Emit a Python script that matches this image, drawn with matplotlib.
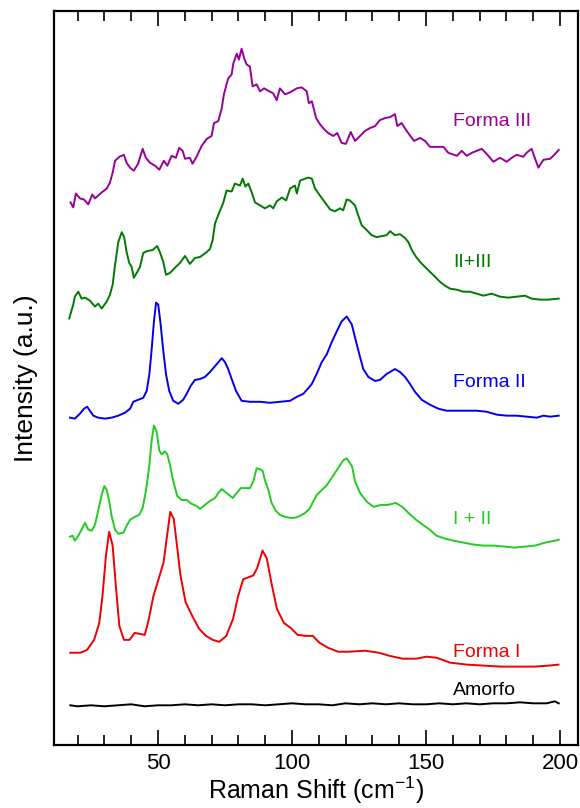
import numpy as np
import matplotlib
matplotlib.use('Agg')
import matplotlib.pyplot as plt
from matplotlib.ticker import MultipleLocator

plt.rcParams['font.family'] = ['Liberation Sans', 'DejaVu Sans']
plt.rcParams['mathtext.fontset'] = 'custom'
plt.rcParams['mathtext.rm'] = 'Liberation Sans'

# Espectros Raman (desplazados verticalmente), pares (cm-1, intensidad u.a.)
forma3 = [(17.4, 547), (18.4, 542), (19.4, 556), (20.9, 551), (22.4, 550), (24.0, 545), (25.5, 555),
          (26.5, 551), (29.0, 557), (30.9, 561), (32.1, 567), (33.1, 577), (34.0, 589), (35.6, 593),
          (37.3, 595), (38.3, 587), (39.6, 582), (41.0, 579), (42.6, 586), (44.3, 601), (45.5, 592),
          (47.0, 587), (48.9, 584), (50.5, 580), (52.2, 589), (53.5, 584), (55.1, 594), (56.7, 592),
          (57.9, 602), (59.2, 599), (60.1, 591), (61.9, 592), (62.9, 586), (64.4, 593), (66.3, 604),
          (68.2, 611), (70.0, 614), (70.9, 627), (72.5, 629), (73.8, 642), (74.6, 656), (76.2, 672),
          (77.5, 676), (78.1, 687), (79.4, 697), (80.2, 691), (81.2, 702), (82.2, 692), (83.1, 686),
          (84.3, 684), (85.3, 664), (86.8, 666), (88.1, 659), (89.6, 662), (91.5, 659), (93.0, 657),
          (94.3, 650), (95.5, 662), (97.4, 656), (99.3, 658), (101.8, 662), (103.6, 663), (105.5, 659),
          (106.3, 647), (107.4, 649), (109.0, 632), (110.4, 626), (111.9, 621), (113.5, 617), (115.4, 614),
          (116.9, 617), (118.5, 607), (120.1, 606), (121.9, 618), (123.5, 609), (125.4, 614), (127.2, 619),
          (129.1, 622), (131.0, 624), (132.8, 630), (134.7, 632), (136.6, 633), (138.4, 636), (139.3, 624),
          (140.9, 627), (142.8, 619), (145.5, 609), (147.8, 612), (149.6, 609), (151.5, 603), (154.0, 603),
          (156.5, 603), (158.3, 597), (161.5, 594), (163.3, 599), (165.2, 594), (167.1, 597), (168.9, 599),
          (170.8, 601), (172.6, 596), (175.1, 588), (177.6, 592), (180.1, 588), (182.0, 592), (183.8, 595),
          (186.3, 593), (187.5, 597), (189.4, 601), (190.7, 591), (191.9, 582), (193.8, 590), (196.3, 591),
          (197.5, 594), (199.5, 600)]

forma23 = [(16.9, 430), (18.4, 444), (19.0, 452), (20.3, 457), (21.5, 450), (22.8, 451), (24.6, 448),
           (26.5, 442), (27.7, 445), (29.0, 440), (30.9, 447), (32.1, 454), (33.1, 464), (34.0, 484),
           (35.2, 507), (36.5, 517), (37.4, 512), (38.3, 497), (39.3, 486), (40.2, 482), (41.0, 471),
           (42.3, 477), (43.3, 482), (44.5, 496), (46.0, 498), (48.0, 499), (49.7, 503), (50.7, 497),
           (52.0, 487), (53.0, 474), (54.5, 476), (56.3, 481), (58.2, 486), (60.1, 493), (61.9, 485),
           (63.8, 491), (65.7, 492), (68.2, 497), (69.4, 500), (70.4, 509), (71.3, 526), (72.9, 537),
           (74.4, 547), (75.6, 559), (77.5, 558), (78.7, 566), (80.6, 564), (81.6, 571), (82.6, 563),
           (83.7, 566), (85.0, 557), (86.2, 547), (88.1, 544), (89.9, 541), (91.8, 544), (93.0, 541),
           (94.3, 548), (96.2, 552), (97.8, 549), (99.3, 561), (101.1, 564), (101.8, 556), (103.0, 569),
           (104.9, 571), (106.1, 572), (107.4, 571), (108.6, 561), (110.4, 554), (112.3, 547), (114.2, 540),
           (116.0, 538), (117.9, 541), (119.1, 539), (120.4, 550), (121.6, 549), (123.5, 544), (124.7, 534),
           (126.0, 524), (127.9, 519), (129.7, 514), (131.6, 512), (133.5, 513), (135.3, 514), (136.6, 518),
           (138.4, 514), (140.3, 515), (142.2, 511), (143.4, 507), (144.7, 499), (146.3, 492), (147.8, 487),
           (149.6, 482), (151.5, 477), (153.4, 472), (155.2, 467), (157.1, 463), (159.0, 460), (161.5, 459),
           (163.9, 457), (166.4, 457), (168.9, 455), (171.4, 453), (174.5, 455), (177.6, 452), (180.7, 451),
           (183.8, 452), (186.9, 453), (189.4, 450), (192.5, 449), (195.6, 449), (199.5, 450)]

forma2 = [(17.2, 330), (19.0, 329), (20.9, 334), (22.4, 339), (23.6, 341), (24.6, 337), (25.9, 332),
          (27.7, 330), (30.2, 329), (32.7, 330), (35.2, 332), (37.7, 335), (39.6, 339), (40.8, 346),
          (42.6, 348), (44.5, 350), (45.8, 357), (46.8, 374), (47.6, 397), (48.5, 427), (49.3, 446),
          (50.1, 444), (51.0, 424), (52.0, 397), (53.0, 374), (54.2, 357), (55.7, 347), (57.6, 344),
          (59.4, 348), (60.7, 354), (62.2, 362), (63.8, 368), (65.7, 369), (67.5, 371), (69.4, 376),
          (71.3, 382), (72.9, 387), (73.8, 390), (75.0, 386), (76.2, 379), (77.5, 369), (79.1, 357),
          (81.2, 347), (84.3, 346), (88.1, 346), (91.8, 345), (95.5, 346), (99.3, 347), (101.8, 351),
          (104.2, 354), (106.5, 361), (107.4, 364), (109.2, 374), (111.1, 386), (113.0, 394), (114.8, 406),
          (116.7, 417), (118.5, 427), (120.4, 432), (122.3, 424), (123.5, 411), (125.1, 394), (126.6, 379),
          (128.5, 371), (131.0, 367), (132.8, 368), (135.3, 374), (138.4, 379), (140.3, 376), (142.2, 371),
          (144.0, 364), (145.9, 356), (148.4, 348), (151.5, 343), (154.6, 339), (157.7, 337), (161.5, 337),
          (165.2, 337), (168.9, 337), (172.6, 336), (176.4, 333), (180.1, 332), (183.8, 332), (187.6, 331),
          (191.3, 330), (193.8, 332), (196.3, 331), (199.5, 332)]

forma12 = [(17.2, 210), (18.2, 211), (19.0, 206), (20.3, 211), (21.5, 217), (22.8, 224), (24.0, 217),
           (25.3, 216), (26.5, 222), (27.7, 236), (29.0, 252), (30.0, 261), (30.9, 257), (31.8, 246),
           (32.7, 231), (34.0, 217), (35.2, 213), (37.1, 214), (38.3, 221), (39.6, 227), (41.4, 230),
           (43.0, 232), (44.3, 239), (45.5, 256), (46.8, 282), (47.6, 306), (48.5, 322), (49.5, 316),
           (50.5, 297), (51.4, 293), (52.6, 296), (53.5, 293), (54.5, 282), (55.7, 266), (57.2, 251),
           (58.8, 247), (60.7, 247), (62.6, 243), (64.4, 241), (65.7, 238), (67.5, 242), (69.4, 246),
           (71.3, 249), (72.5, 254), (73.8, 258), (75.6, 254), (77.9, 249), (79.4, 254), (80.9, 259),
           (82.5, 259), (84.3, 259), (85.6, 266), (86.8, 279), (88.1, 278), (89.1, 276), (89.9, 267),
           (91.2, 257), (92.4, 244), (94.0, 236), (95.5, 232), (97.4, 230), (99.3, 229), (101.1, 229),
           (103.0, 231), (104.9, 234), (106.5, 238), (109.2, 252), (113.0, 262), (116.7, 277), (119.1, 287),
           (120.4, 289), (122.4, 281), (123.5, 266), (125.4, 254), (128.0, 245), (130.5, 240), (133.0, 242),
           (135.6, 242), (138.7, 244), (141.2, 240), (143.8, 233), (146.3, 227), (148.8, 222), (151.4, 217),
           (153.9, 211), (157.1, 208), (160.2, 206), (164.0, 204), (167.8, 202), (171.6, 201), (175.4, 201),
           (179.2, 200), (183.0, 199), (186.8, 200), (190.6, 201), (194.4, 204), (198.2, 206), (199.5, 207)]

forma1 = [(17.3, 93), (21.1, 93), (23.6, 96), (26.2, 106), (28.1, 123), (29.3, 150), (30.6, 191),
          (31.8, 215), (33.1, 201), (34.4, 157), (35.6, 120), (37.3, 106), (39.4, 106), (41.3, 113),
          (43.2, 112), (45.1, 111), (46.6, 127), (48.3, 150), (50.2, 167), (52.1, 184), (53.4, 211),
          (54.6, 235), (55.9, 228), (57.1, 201), (58.4, 171), (60.3, 144), (62.8, 130), (65.4, 117),
          (67.9, 110), (70.4, 106), (72.9, 104), (75.5, 110), (78.0, 127), (79.9, 150), (81.8, 167),
          (83.7, 169), (85.6, 171), (87.1, 179), (89.0, 196), (90.6, 188), (92.5, 161), (94.4, 137),
          (97.0, 123), (99.5, 118), (102.1, 111), (105.2, 110), (107.7, 110), (110.3, 103), (113.4, 98),
          (117.2, 94), (121.0, 94), (127.4, 95), (132.4, 93), (136.2, 90), (141.2, 87), (146.3, 87),
          (150.1, 89), (153.9, 88), (159.0, 83), (165.3, 81), (171.6, 80), (177.9, 79), (184.3, 79),
          (190.6, 79), (195.6, 80), (199.4, 81)]

amorfo = [(17.3, 40), (20, 39), (25, 40), (30, 39), (35, 40), (40, 41), (45, 39), (50, 40), (55, 40),
          (60, 41), (65, 40), (70, 41), (75, 40), (80, 41), (85, 41), (90, 40), (95, 41), (100, 42),
          (105, 41), (110, 41), (115, 40), (120, 42), (125, 41), (130, 42), (135, 41), (140, 42),
          (145, 41), (150, 41), (155, 42), (160, 41), (165, 42), (170, 41), (175, 42), (180, 42),
          (185, 43), (190, 42), (195, 42), (198, 44), (199.5, 42)]

espectros = [forma3, forma23, forma2, forma12, forma1, amorfo]
colores = ['#990099', '#007a00', '#0000ee', '#22cc22', '#ee0000', '#000000']
etiquetas = ['Forma III', 'II+III', 'Forma II', 'I + II', 'Forma I', 'Amorfo']
pos_etiqueta = [629, 486, 365, 227, 93, 55]

fig = plt.figure(figsize=(5.8, 8.08), dpi=100)
ax = fig.add_axes([0.093, 0.078, 0.9036, 0.9084])

for datos, color, texto, yt in zip(espectros, colores, etiquetas, pos_etiqueta):
    xy = np.array(datos)
    ax.plot(xy[:, 0], xy[:, 1], color=color, lw=1.4)
    ax.text(160, yt, texto, color=color, fontsize=14, va='center', ha='left')

ax.set_xlim(11.2, 206.7)
ax.set_ylim(0, 740)

ax.xaxis.set_major_locator(MultipleLocator(50))
ax.xaxis.set_minor_locator(MultipleLocator(10))
ax.tick_params(axis='x', which='both', direction='in', top=True, bottom=True,
               labelsize=16, pad=6, width=1.2)
ax.tick_params(axis='x', which='major', length=11)
ax.tick_params(axis='x', which='minor', length=7)
ax.set_yticks([])
for s in ax.spines.values():
    s.set_linewidth(1.6)

ax.set_xlabel(r'Raman Shift (cm$^{\mathrm{-1}}$)', fontsize=18, labelpad=0)
ax.set_ylabel('Intensity (a.u.)', fontsize=19)
ax.yaxis.set_label_coords(-0.03, 0.5)

fig.savefig('out.png', dpi=100)
